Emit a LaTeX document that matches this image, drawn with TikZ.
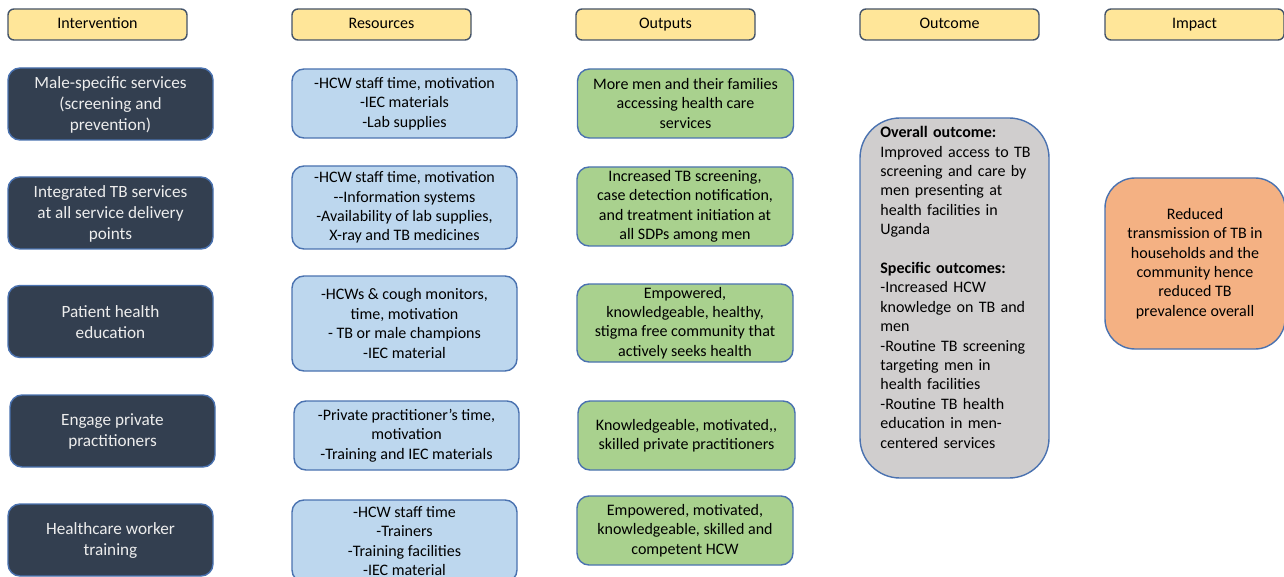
\documentclass[tikz,border=0pt]{standalone}
\usepackage{fontspec}
\setmainfont{Carlito}
\definecolor{hdrfill}{HTML}{FFE699}
\definecolor{hdrline}{HTML}{44546A}
\definecolor{darkfill}{HTML}{333F50}
\definecolor{blueline}{HTML}{4A72B0}
\definecolor{bluefill}{HTML}{BDD7EE}
\definecolor{greenfill}{HTML}{A9D18E}
\definecolor{grayfill}{HTML}{D0CECE}
\definecolor{orangefill}{HTML}{F4B183}
\definecolor{lighttext}{HTML}{EDEDED}
\newcommand{\hstr}{\vphantom{Ag}}
\tikzset{
  x=0.5pt, y=-0.5pt,
  base/.style={rounded corners=6pt, line width=0.7pt, align=center, inner sep=0pt,
    font=\fontsize{8}{9.7}\selectfont},
  hdr/.style={base, draw=hdrline, fill=hdrfill, rounded corners=3pt,
    minimum width=89.5pt, minimum height=15.5pt},
  interv/.style={base, draw=blueline, fill=darkfill, text=lighttext,
    minimum width=102.5pt, minimum height=36pt, font=\fontsize{8.6}{10.5}\selectfont},
  res/.style={base, draw=blueline, fill=bluefill, minimum width=112.5pt},
  outp/.style={base, draw=blueline, fill=greenfill, minimum width=108pt},
}
\begin{document}
\begin{tikzpicture}
\useasboundingbox (0,0) rectangle (1284,577);
\fill[white] (0,0) rectangle (1284,577);
% headers
\node[hdr] (h1) at (97.5,24.5) {\hstr Intervention};
\node[hdr] (h2) at (381.5,24.5) {\hstr Resources};
\node[hdr] (h3) at (665.5,24.5) {\hstr Outputs};
\node[hdr] (h4) at (949.5,24.5) {\hstr Outcome};
\node[hdr] (h5) at (1194.5,24.5) {\hstr Impact};
% interventions
\node[interv] (i1) at (110.5,104) {\\[-4pt]Male-specific services\\(screening and\\prevention)};
\node[interv] (i2) at (110.5,213) {\\[-4pt]Integrated TB services\\at all service delivery\\points};
\node[interv] (i3) at (110.5,321.5) {\\[-4pt]Patient health\\education};
\node[interv] (i4) at (112.5,431) {\\[-4pt]Engage private\\practitioners};
\node[interv] (i5) at (110.5,540) {\\[-4pt]Healthcare worker\\training};
% resources
\node[res, minimum height=34.5pt] (r1) at (404.5,103.5) {-HCW staff time, motivation\\-IEC materials\\-Lab supplies};
\node[res, minimum height=41.5pt] (r2) at (404.5,207.5) {-HCW staff time, motivation\\-{}-Information systems\\-Availability of lab supplies,\\X-ray and TB medicines};
\node[res, minimum height=47.5pt] (r3) at (404.5,323.5) {-HCWs \& cough monitors,\\time, motivation\\- TB or male champions\\-IEC material};
\node[res, minimum height=34.5pt] (r4) at (406.5,435.5) {-Private practitioner’s time,\\motivation\\-Training and IEC materials};
\node[res, minimum height=41pt] (r5) at (404.5,541) {-HCW staff time\\-Trainers\\-Training facilities\\-IEC material};
% outputs
\node[outp, minimum height=34.5pt] (o1) at (685.5,103.5) {More men and their families\\accessing health care\\services};
\node[outp, minimum height=39.5pt] (o2) at (685,206.5) {Increased TB screening,\\case detection notification,\\and treatment initiation at\\all SDPs among men};
\node[outp, minimum height=39pt] (o3) at (685,323) {Empowered,\\knowledgeable, healthy,\\stigma free community that\\actively seeks health};
\node[outp, minimum height=34.5pt, minimum width=108.5pt] (o4) at (686.5,435.5) {Knowledgeable, motivated,{},\\skilled private practitioners};
\node[outp, minimum height=34.5pt] (o5) at (685,530.5) {Empowered, motivated,\\knowledgeable, skilled and\\competent HCW};
% outcome
\node[base, draw=blueline, fill=grayfill, rounded corners=20pt, minimum width=94.5pt, minimum height=180pt] (oc) at (954.5,298) {};
\node[anchor=north west, align=left, inner sep=0pt, font=\fontsize{8}{9.7}\selectfont, text width=80pt] (oct) at (880,126)
{\textbf{Overall outcome:}\\Improved access to TB\\screening and care by\\men presenting at\\health facilities in\\Uganda\\[9.7pt]\textbf{Specific outcomes:}\\-Increased HCW\\knowledge on TB and\\men\\-Routine TB screening\\targeting men in\\health facilities\\-Routine TB health\\education in men-\\centered services};
% impact
\node[base, draw=blueline, fill=orangefill, rounded corners=15pt, minimum width=90pt, minimum height=85.5pt] (im) at (1195,263.5)
{Reduced\\transmission of TB in\\households and the\\community hence\\reduced TB\\prevalence overall};
\end{tikzpicture}
\end{document}
